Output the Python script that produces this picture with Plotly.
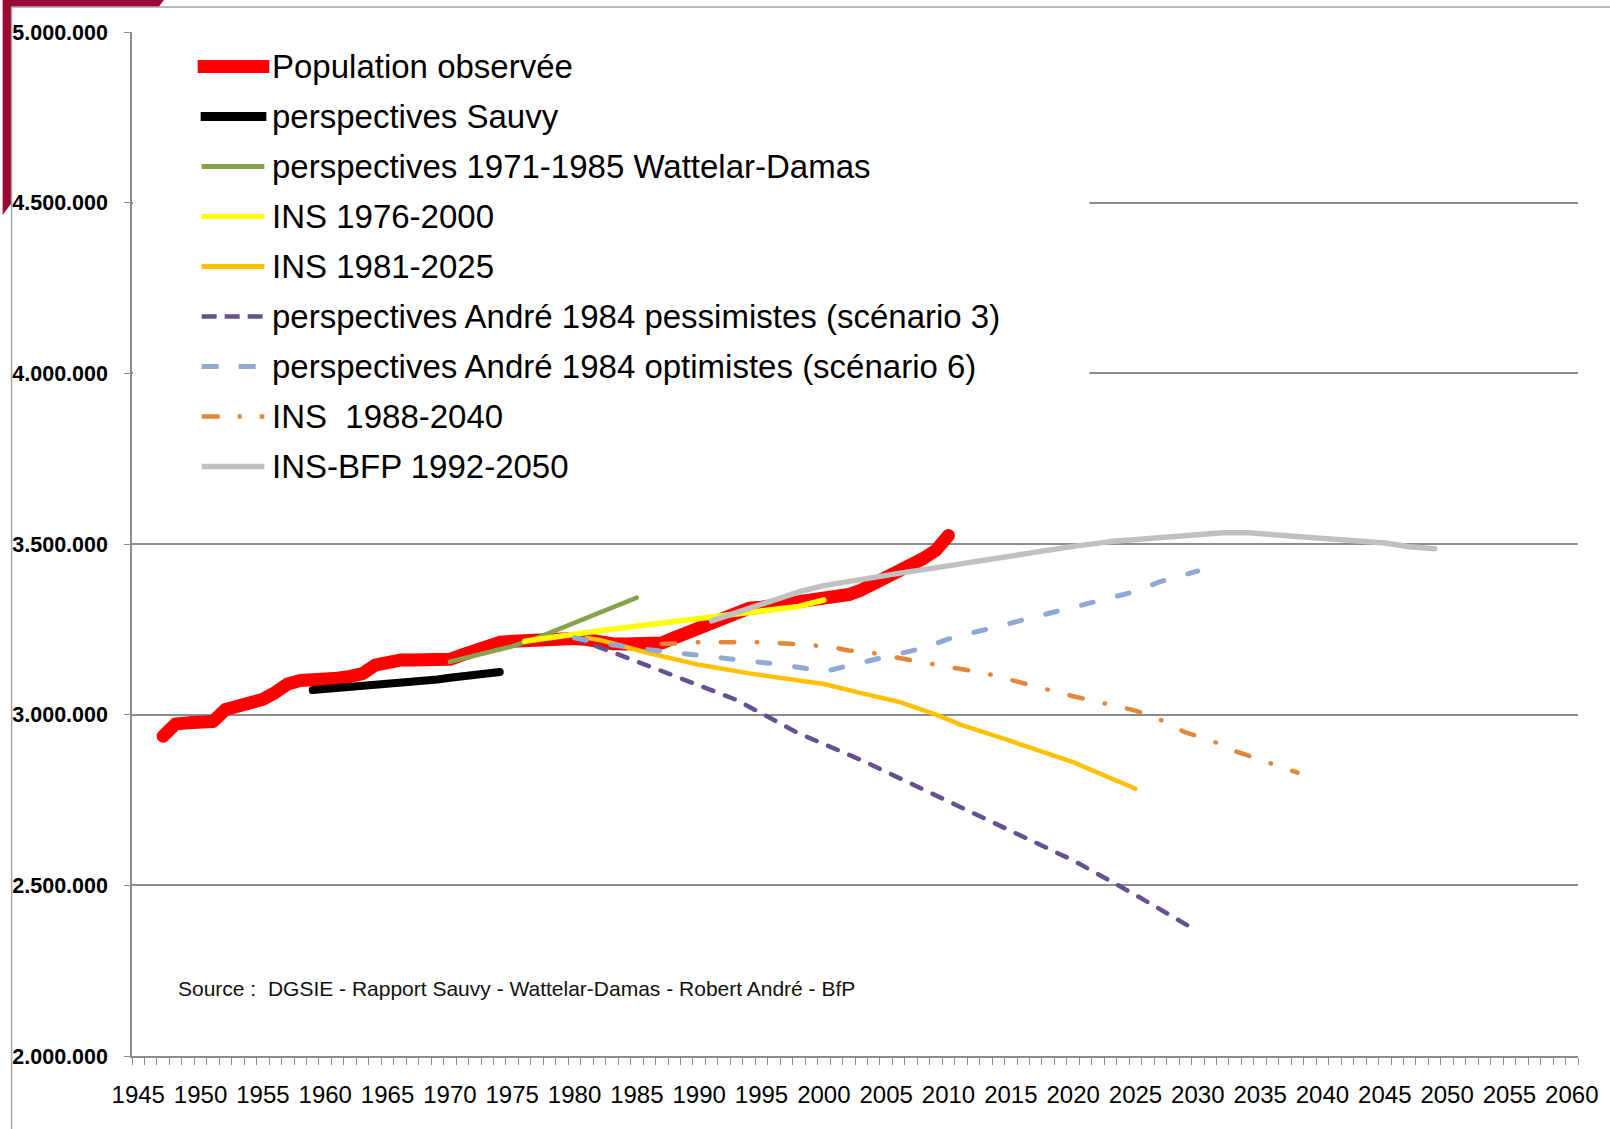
import plotly.graph_objects as go

# ---------------- data (values in inhabitants) ----------------
obs_years = [1947, 1948, 1949, 1950, 1951, 1952, 1953, 1954, 1955, 1956, 1957, 1958, 1959,
             1960, 1961, 1962, 1963, 1964, 1965, 1966, 1967, 1968, 1969, 1970, 1971, 1972,
             1973, 1974, 1975, 1976, 1977, 1978, 1979, 1980, 1981, 1982, 1983, 1984, 1985,
             1986, 1987, 1988, 1989, 1990, 1991, 1992, 1993, 1994, 1995, 1996, 1997, 1998,
             1999, 2000, 2001, 2002, 2003, 2004, 2005, 2006, 2007, 2008, 2009, 2010]
obs_values = [2937000, 2973000, 2976000, 2976000, 2980000, 3015000, 3025000, 3030000,
              3045000, 3065000, 3090000, 3100000, 3100000, 3102000, 3107000, 3112000,
              3120000, 3145000, 3155000, 3160000, 3160000, 3160000, 3160000, 3162000,
              3175000, 3188000, 3200000, 3212000, 3215000, 3218000, 3222000, 3222000,
              3223000, 3223000, 3220000, 3212000, 3208000, 3207000, 3207000, 3208000,
              3210000, 3225000, 3240000, 3255000, 3275000, 3290000, 3305000, 3312000,
              3315000, 3320000, 3323000, 3327000, 3331000, 3337000, 3345000, 3352000,
              3365000, 3382000, 3398000, 3415000, 3436000, 3458000, 3482000, 3525000]

sauvy_years = [1959, 1960, 1961, 1962, 1963, 1964, 1965, 1966, 1967, 1968, 1969, 1970,
               1971, 1972, 1973, 1974]
sauvy_values = [3072000, 3075000, 3076000, 3080000, 3083000, 3084000, 3088000, 3093000,
                3097000, 3098000, 3103000, 3108000, 3112000, 3113000, 3118000, 3125000]

wd_years = [1970, 1972, 1975, 1977, 1979, 1980, 1985]
wd_values = [3155000, 3172000, 3200000, 3225000, 3255000, 3267000, 3343000]

ins76_years = [1976, 1982, 1990, 1998, 2000]
ins76_values = [3215000, 3246000, 3282000, 3317000, 3336000]

ins81_years = [1981, 1982, 1986, 1990, 1994, 1998, 2000, 2003, 2006, 2009, 2011, 2014,
               2020, 2025]
ins81_values = [3225000, 3219000, 3180000, 3146000, 3121000, 3102000, 3090000, 3063000,
                3038000, 3000000, 2970000, 2935000, 2861000, 2783000]

pess_years = [1980, 1982, 1987, 1993, 1998, 2003, 2010, 2015, 2020, 2025, 2030]
pess_values = [3225000, 3198000, 3128000, 3043000, 2945000, 2867000, 2747000, 2660000,
               2573000, 2472000, 2365000]

opt_years = [1980, 1983, 1986, 1990, 1993, 1996, 1999, 2000, 2005, 2008, 2010, 2013,
             2020, 2025, 2027, 2030]
opt_values = [3225000, 3205000, 3190000, 3175000, 3162000, 3149000, 3133000, 3126000,
              3170000, 3195000, 3222000, 3250000, 3313000, 3361000, 3390000, 3421000]

ins88_years = [1987, 1990, 1995, 1997, 1999, 2001, 2002, 2004, 2006, 2008, 2010, 2013,
               2020, 2025, 2027, 2029, 2031, 2033, 2035, 2038]
ins88_values = [3207000, 3212000, 3212000, 3207000, 3204000, 3195000, 3188000, 3180000,
                3168000, 3153000, 3140000, 3121000, 3054000, 3012000, 2985000, 2948000,
                2926000, 2893000, 2868000, 2830000]

bfp_years = [1991, 1993, 1995, 1998, 2000, 2003, 2006, 2008, 2011, 2015, 2020, 2023, 2026,
             2029, 2032, 2034, 2036, 2039, 2041, 2043, 2045, 2047, 2049]
bfp_values = [3275000, 3300000, 3325000, 3360000, 3378000, 3398000, 3414000, 3425000,
              3442000, 3468000, 3493000, 3507000, 3517000, 3527000, 3533000, 3533000,
              3527000, 3521000, 3516000, 3507000, 3503000, 3492000, 3486000]

series_names = ["Population observée", "perspectives Sauvy",
                "perspectives 1971-1985 Wattelar-Damas", "INS 1976-2000", "INS 1981-2025",
                "perspectives André 1984 pessimistes (scénario 3)",
                "perspectives André 1984 optimistes (scénario 6)",
                "INS\u00a0\u00a01988-2040", "INS-BFP 1992-2050"]
series_x = [obs_years, sauvy_years, wd_years, ins76_years, ins81_years, pess_years,
            opt_years, ins88_years, bfp_years]
series_y = [obs_values, sauvy_values, wd_values, ins76_values, ins81_values, pess_values,
            opt_values, ins88_values, bfp_values]

x_tick_years = [1945, 1950, 1955, 1960, 1965, 1970, 1975, 1980, 1985, 1990, 1995, 2000,
                2005, 2010, 2015, 2020, 2025, 2030, 2035, 2040, 2045, 2050, 2055, 2060]
source_text = "Source :\u00a0 DGSIE - Rapport Sauvy - Wattelar-Damas - Robert André - BfP"

# ---------------- styles ----------------
colors = ["#FF0000", "#000000", "#84A34A", "#FFFF00", "#FFC000", "#66508F", "#8EA9D3",
          "#E0873A", "#C0C0C0"]
widths = [13, 8, 4.5, 5.5, 4.5, 4.5, 5, 4.5, 5.5]
# trace dashes are drawn with round caps (set in post_script), so dashes are shortened
trace_dashes = ["solid", "solid", "solid", "solid", "solid", "10.5px,12.5px", "12px,25px",
                "13.5px,22.5px,0.5px,22.5px", "solid"]
legend_dashes = ["solid", "solid", "solid", "solid", "solid", "15px,8px", "17px,20px",
                 "18px,18px,4px,18px", "solid"]
legend_widths = [13, 9, 5, 5, 5, 4.5, 5, 4.5, 5.5]

W, H = 1610, 1129
L, R, T, B = 130, 27, 32, 73
PW, PH = W - L - R, H - T - B


def px(x):
    return (x - L) / PW


def py(y):
    return (H - B - y) / PH


TEXT_FONT = "Liberation Sans, Arial, sans-serif"

fig = go.Figure()
for name, xs, ys, c, w, d in zip(series_names, series_x, series_y, colors, widths, trace_dashes):
    fig.add_trace(go.Scatter(x=xs, y=ys, mode="lines", name=name, showlegend=False,
                             line=dict(color=c, width=w, dash=d)))

shapes = []
# decorative slide corner + page frame
shapes.append(dict(type="path", xref="paper", yref="paper", layer="below",
                   path=f"M {px(0)},{py(0)} L {px(162)},{py(0)} L {px(0)},{py(215)} Z",
                   fillcolor="#9B0A33", line=dict(width=0)))
shapes.append(dict(type="rect", xref="paper", yref="paper", layer="below",
                   x0=px(9), y0=py(1160), x1=px(1650), y1=py(7),
                   fillcolor="white", line=dict(color="#A6A6A6", width=1.5)))
# legend background box
shapes.append(dict(type="rect", xref="paper", yref="paper", layer="above",
                   x0=px(131), y0=py(497), x1=px(1092), y1=py(42),
                   fillcolor="white", line=dict(width=0)))

annotations = []
for i, (name, c, lw, d) in enumerate(zip(series_names, colors, legend_widths, legend_dashes)):
    cy = 66.5 + 50 * i
    x0 = 196 if i == 0 else (199 if i == 1 else 200)
    x1 = 268 if i == 0 else (265 if i == 1 else 263)
    shapes.append(dict(type="line", xref="paper", yref="paper", layer="above",
                       x0=px(x0), x1=px(x1), y0=py(cy), y1=py(cy),
                       line=dict(color=c, width=lw, dash=d)))
    annotations.append(dict(xref="paper", yref="paper", x=px(269), y=py(cy),
                            xanchor="left", yanchor="middle", showarrow=False,
                            text=name, font=dict(family=TEXT_FONT, size=33, color="black")))

annotations.append(dict(xref="paper", yref="paper", x=px(174), y=py(988),
                        xanchor="left", yanchor="middle", showarrow=False,
                        text=source_text, font=dict(family=TEXT_FONT, size=21, color="#111111")))

fig.update_layout(
    width=W, height=H,
    margin=dict(l=L, r=R, t=T, b=B, pad=0),
    paper_bgcolor="white",
    plot_bgcolor="rgba(0,0,0,0)",
    separators=",.",
    showlegend=False,
    shapes=shapes,
    annotations=annotations,
    xaxis=dict(
        range=[1944.5, 2060.5],
        tickmode="array", tickvals=x_tick_years, ticktext=[str(v) for v in x_tick_years],
        ticks="", showgrid=False, zeroline=False,
        showline=True, linecolor="#8C8C8C", linewidth=1.5,
        tickfont=dict(family=TEXT_FONT, size=24, color="black"),
        ticklabelstandoff=16,
        minor=dict(tickmode="linear", tick0=1944.5, dtick=1, ticks="outside",
                   ticklen=7, tickwidth=1.2, tickcolor="#8C8C8C", showgrid=False),
    ),
    yaxis=dict(
        range=[2000000, 5000000],
        tickmode="linear", tick0=2000000, dtick=500000, tickformat=",d",
        showgrid=True, gridcolor="#8C8C8C", gridwidth=1.5, zeroline=False,
        showline=True, linecolor="#8C8C8C", linewidth=1.5,
        ticks="outside", ticklen=6, tickwidth=1.2, tickcolor="#8C8C8C",
        tickfont=dict(family=TEXT_FONT, size=21.5, color="black", weight="bold"),
        ticklabelstandoff=12,
    ),
)

post = (
    "document.body.style.margin='0px';document.body.style.padding='0px';"
    "document.querySelectorAll('.scatterlayer .js-line').forEach(function(p){"
    "p.style.strokeLinecap='round';p.style.strokeLinejoin='round';});"
)
fig.write_html("out.html", config={"displayModeBar": False}, post_script=post)
